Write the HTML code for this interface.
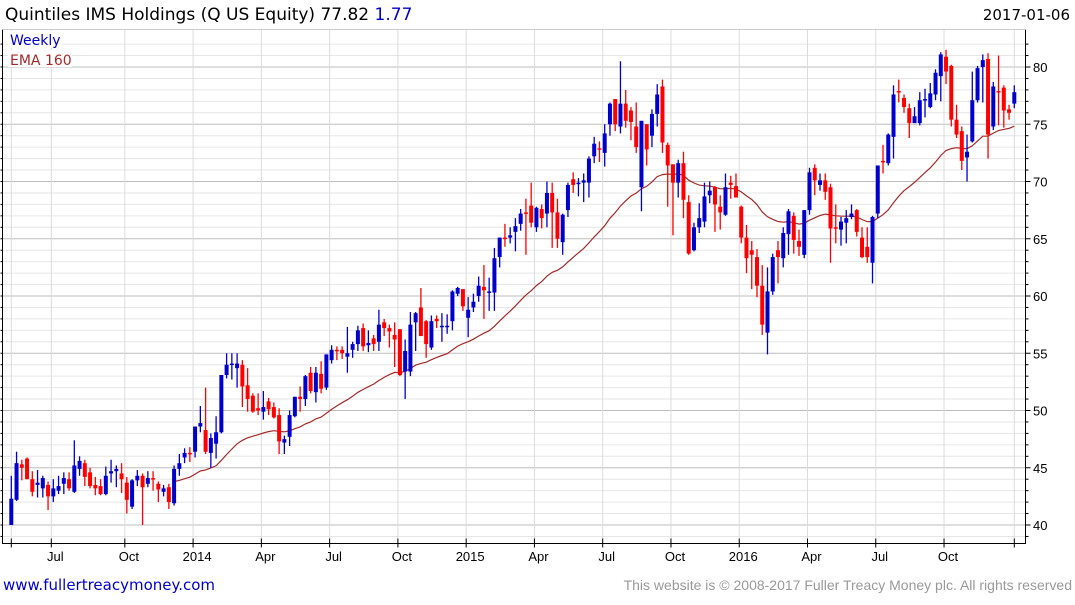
<!DOCTYPE html>
<html><head><meta charset="utf-8"><style>
html,body{margin:0;padding:0;background:#fff;}
body{width:1075px;height:600px;overflow:hidden;font-family:"Liberation Sans",sans-serif;}
svg text{font-family:"Liberation Sans",sans-serif;}
svg text.dv{font-family:"DejaVu Sans","Liberation Sans",sans-serif;}
</style></head><body>
<svg id="chart" width="1075" height="600" viewBox="0 0 1075 600" xmlns="http://www.w3.org/2000/svg">
<text class="dv" x="5" y="20" font-size="17" fill="#000">Quintiles IMS Holdings (Q US Equity) 77.82 <tspan fill="#0000cc">1.77</tspan></text>
<text class="dv" x="1070" y="20" font-size="15" fill="#000" text-anchor="end">2017-01-06</text>
<g id="grid"></g>
<g id="marks"></g>
<g id="axes"></g>
<rect x="8" y="31" width="54" height="17" fill="#fff"/>
<text class="dv" x="10" y="45" font-size="14" fill="#0000cc">Weekly</text>
<rect x="8" y="50" width="64" height="17" fill="#fff"/>
<text class="dv" x="10" y="65" font-size="14" fill="#a52a2a">EMA 160</text>
<text class="dv" x="3" y="590" font-size="15" fill="#0000cc">www.fullertreacymoney.com</text>
<text x="1072" y="590" font-size="14" fill="#999" text-anchor="end">This website is © 2008-2017 Fuller Treacy Money plc. All rights reserved</text>
</svg>
<script>
const opens=[40,42.2,45.3,45.8,44,43.5,43.2,43.5,42.5,43,
43.6,44,42.9,44.9,45.4,44.6,43.5,43.4,42.7,44.5,
44.7,44.5,43.7,41.6,43.9,44.3,43.6,44.1,43.6,42.9,
43.3,41.9,44.9,45.9,46.3,46.4,48.6,48.3,46.3,47.1,
48.1,53.1,54,53.7,54,52.2,51.3,50.2,49.9,50.8,
50.3,49.6,47.2,47.7,49.5,51.2,51,53.3,51.6,53.2,
52,54.4,55.3,55.3,54.7,55.3,55.8,57.2,55.7,56.3,
56,57.7,57.2,56.6,57.1,53.4,53.4,57.7,59,57.8,
55.5,58,57.3,57.3,57.8,60.2,60.6,58.1,59,60,
60.8,60.3,60.3,63.4,65.1,65.1,65.6,66.3,67.3,67.9,
66,67.6,67.2,69,67.3,64.7,67.5,70.2,69.8,69.9,
69.9,72.2,72.9,72.5,75,77.2,74.8,76.8,76.2,74.8,
69.5,75,74,75.9,78.3,73.2,71.5,69.9,71.6,68.2,
64,66,66.5,68.8,69.5,67.8,67.1,69.9,69.6,67.8,
65.1,64,63.4,60.9,56.8,60.4,64,63.3,65.4,67,
64.8,63.6,67.5,71.2,69.7,70.1,69.5,66,65.8,66.4,
66.9,67.5,65.1,64.3,62.9,67.2,71.8,71.6,73.9,77.9,
77.3,76.4,75.1,75.1,77.1,76.5,77.6,79.2,80.9,80.1,
75.4,74.4,72.1,73.5,77.1,80,80.7,74.8,77.9,78.2,
76.3,76.8];
const highs=[44.3,46.4,45.7,45.9,44.7,44.8,44.3,43.8,44,44.3,
44.6,44.6,47.4,46,45.7,45,44.2,44,45.1,45.7,
45.2,45.4,44.2,44,44.8,44.5,44.7,44.7,43.8,43.5,
43.6,45.2,46.2,46.7,46.8,48.6,50.4,52,48,49.5,
53.1,55,55,55,54.4,53.7,51.5,51.5,51.7,51.1,
50.7,50.2,47.8,50,51.2,52.1,53.1,53.8,53.8,54.3,
54.9,55.7,55.6,55.6,57.3,56,57.4,57.6,57,56.6,
58.8,58,57.5,57.7,57.1,56.2,58.6,58.6,60.7,57.9,
58.3,58.3,58.5,58.4,60.5,60.8,60.6,59.9,60.2,61.7,
62.7,61.6,64.2,65.1,66.3,66,66.8,67.6,68.5,69.9,
67.8,68,70,69.9,68.5,67.2,69.9,70.8,70.3,70.7,
72.2,73.9,73.5,75,76.9,77.2,80.5,78,76.5,76.9,
75.3,75,76.3,78.5,78.9,73.4,71.5,71.9,72.6,68.8,
66.4,68.1,69.9,70,69.6,68.8,70.7,70.5,70.7,67.9,
66.2,64.8,64.1,62.7,62.5,63.7,64.8,66,67.6,67.3,
65.8,67.5,71.2,71.5,70.7,70.7,69.8,68,66.9,67.5,
68,67.6,66,66,67,71.4,73.2,74.2,78.4,78.9,
77.6,76.8,76.5,77.8,78.1,78.6,79.8,81.3,81.5,80.2,
76.7,74.8,74.1,79.6,80.1,81.1,81.2,78.7,81,78.4,
76.7,78.4];
const lows=[40,42.1,43.9,44,42.5,42.4,42.4,41.3,42,42.7,
42.7,43,42.8,44.3,43.4,43.2,42.6,42.6,42.6,43.7,
43.3,42.8,41,41.4,43.4,40,43.3,43,42,42.5,
41.4,41.7,44.3,45.4,45.5,45.9,48.1,46.2,45,45.8,
48,52.8,52.7,52,50.3,49.9,49.8,49.6,49.2,49.6,
49.3,46.2,46.2,46.9,49.4,49.9,50.4,51.5,50.7,51.5,
51.8,54.1,54.4,54.5,53.3,54.6,55.2,55.2,55.1,55.2,
55.2,56.5,55.5,53.8,53,51,53,55.2,57.1,54.6,
55.3,57.2,56,56.7,57,60,58.7,56.4,58.6,59.5,
58,58.7,58.7,62.5,64.3,64.6,63.9,65.7,63.6,66,
65.6,65.9,66,64.2,64.2,63.6,66.9,69,68.7,68.2,
68.6,71.6,71.7,71.3,74,74.4,74.2,74.7,73.6,72.5,
67.4,71.4,73,74.8,72.5,67.8,65.3,68.6,66.8,63.6,
63.9,65.5,66,68.1,65.6,65.8,67,68.5,68.6,64.6,
62,60.6,59.9,56.6,54.9,60.1,61.1,62.5,63.6,63.7,
63.5,63.3,67.1,68.8,69.2,68.4,62.9,64.6,64.4,64.6,
66.7,65.2,63.3,62.9,61.1,66.8,70.7,71.4,72,76.9,
76,73.8,75.1,74.9,75.6,76.4,77.1,77,78.5,74.8,
73.8,71,70,73.4,76.9,76.9,72,74.5,74.9,74.7,
75.4,76.4];
const closes=[42.3,45.4,45,44,42.9,43.7,44.1,42.5,43.2,43.4,
44.1,43.2,45.2,45.6,44.2,43.4,43.2,42.7,44.3,44.7,
44.9,44,42.2,43.9,44.3,43.3,44.1,44,43.1,43.2,
42,44.9,45.4,46.3,46.2,48.6,48.9,46.4,47.6,48.1,
53.1,54,54.1,54.1,52.1,51,49.9,50,50.3,50.1,
49.4,47.3,47.5,49.6,51.2,51,53,51.7,53.3,51.9,
54.9,55.3,55.2,55,55,55.8,57,55.6,55.9,55.8,
57.5,57.2,56.9,56.2,53.1,55.2,57.5,58.5,56.5,55.8,
57.8,57.8,57.4,57.4,60.4,60.7,59.1,58.8,59.5,60.9,
60.5,60.4,63.3,65.1,65,65.3,66.1,67.2,67.2,66.4,
67.7,66.8,69,67.3,65,67.1,69.7,69.7,69.9,70.1,
72,73.3,72.8,74.2,76.8,75,76.8,75.3,75.2,73,
75.3,72.8,75.9,77.6,73.4,71.4,69.9,71.6,68.4,63.7,
66,66.8,68.7,69.2,68,67.3,69.5,69.7,68.6,65.1,
63.3,63.6,60.9,57.5,60.4,63.4,63.4,65.5,67.4,64.9,
64.3,67.5,70.8,70.1,70.1,69.1,65.9,65.9,66.5,66.8,
67.2,65.6,63.4,63.4,66.9,71.4,71.7,74.1,77.6,77.8,
76.5,75.1,75.7,77.1,77.2,77.7,79.5,81.1,79.6,75.4,
74.1,71.8,72.6,77.1,79.9,80.6,74.1,78.3,77.8,76.2,
76,77.8];
const yTicks=[40,45,50,55,60,65,70,75,80];
const xLabels=["Jul","Oct","2014","Apr","Jul","Oct","2015","Apr","Jul","Oct","2016","Apr","Jul","Oct"];
const xLabelWeeks=[8,22,35,48,61,74,87,100,113,126,139,152,165,178];
const emaStart=31, emaSeed=43.8, emaPeriod=32;

const NS="http://www.w3.org/2000/svg";
const L=2.5,R=1025.5,T=29.5,B=543.5;
function yS(v){return 67+(80-v)*11.45;}
function xS(i){return 11.3+i*(1003/(closes.length-1));}
function mk(tag,attrs,parent){const e=document.createElementNS(NS,tag);for(const k in attrs)e.setAttribute(k,attrs[k]);parent.appendChild(e);return e;}
const grid=document.getElementById('grid'),marks=document.getElementById('marks'),axes=document.getElementById('axes');

for(let v=39;v<=82;v++){const y=yS(v);if(y<T||y>B)continue;
 const major=v%5===0;
 const g=mk('line',{x1:L,x2:R,y1:y,y2:y,stroke:major?'#bdbdbd':'#e6e6e6','stroke-width':1},grid);
 
 
 const t=mk('line',{x1:R,x2:R+(major?5:3),y1:y,y2:y,stroke:'#000','stroke-width':1},axes);
 
 
 const lt=mk('line',{x1:L-2,x2:L,y1:y,y2:y,stroke:'#000','stroke-width':1},axes);
 
 
}
const vg=[xS(0)].concat(xLabelWeeks.map(w=>xS(w)-2)).concat([xS(191)]);
vg.forEach(x=>{const l=mk('line',{x1:x,x2:x,y1:T,y2:B,stroke:'#dcdcdc','stroke-width':1},grid);
 
 
 const t=mk('line',{x1:x,x2:x,y1:B-5,y2:B+4,stroke:'#000','stroke-width':1},axes);
 
 
});
yTicks.forEach(v=>{const t=mk('text',{x:1033,y:yS(v)+5,'font-size':13,fill:'#000'},axes);t.textContent=String(v);
 
 
});
xLabels.forEach((s,k)=>{const t=mk('text',{x:xS(xLabelWeeks[k])+2,y:561,'font-size':13,fill:'#000','text-anchor':'middle'},axes);t.textContent=s;
 
 
});
const fr=mk('path',{d:`M${L},${T} V${B} H${R} V${T}`,fill:'none',stroke:'#000','stroke-width':1},axes);


const tp=mk('line',{x1:L,x2:R,y1:T,y2:T,stroke:'#ccc','stroke-width':1},axes);



const a=2/(emaPeriod+1);let e=emaSeed;let d='';
for(let i=emaStart;i<closes.length;i++){if(i>emaStart)e=e+a*(closes[i]-e);d+=(i===emaStart?'M':'L')+xS(i).toFixed(1)+','+yS(e).toFixed(1)+' ';}
const ema=mk('path',{d:d,fill:'none',stroke:'#a52a2a','stroke-width':1.2},marks);



for(let i=0;i<closes.length;i++){
 const up=closes[i]>=opens[i];const col=up?'#0000cc':'#ff0000';const x=xS(i);
 const w=mk('line',{x1:x,x2:x,y1:yS(highs[i]),y2:yS(lows[i]),stroke:col,'stroke-width':1.3},marks);
 
 
 const y1=yS(Math.max(opens[i],closes[i])),y2=yS(Math.min(opens[i],closes[i]));
 const b=mk('rect',{x:x-2,y:y1,width:4,height:Math.max(1.5,y2-y1),fill:col},marks);
 
 
}
</script>
</body></html>
